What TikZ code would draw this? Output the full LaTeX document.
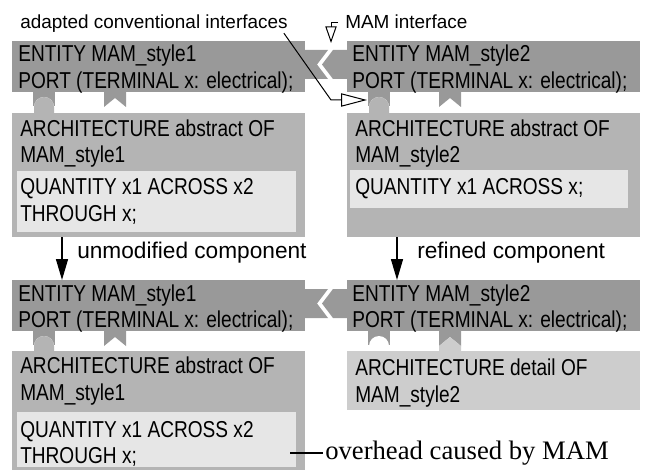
\documentclass[tikz,border=0pt]{standalone}
\usepackage{fontspec}
\setmainfont{Liberation Sans}
\newfontfamily\narrowfont[FakeStretch=0.83]{Liberation Sans}
\newfontfamily\seriffont{Liberation Serif}
\usetikzlibrary{arrows.meta,fit}
\definecolor{entgray}{RGB}{153,153,153}
\definecolor{archgray}{RGB}{180,180,180}
\definecolor{innergray}{RGB}{230,230,230}
\definecolor{detailgray}{RGB}{205,205,205}
% joint between two entity boxes of one row, #1 = top y
\newcommand\mamjoint[1]{%
  \fill[entgray] (305,#1+9) -- (328,#1+9) -- (317,#1+23.5) -- (328,#1+38) -- (305,#1+38) -- cycle;
  \fill[entgray] (347,#1+9) -- (333,#1+9) -- (322,#1+23.5) -- (333,#1+38) -- (347,#1+38) -- cycle;}
% sockets below an entity box, #1 = left x, #2 = bottom y
\newcommand\mamsockets[2]{%
  \fill[entgray] (#1+21,#2) rectangle (#1+43,#2+14);
  \fill[white] (#1+32,#2+15) circle[radius=10];
  \fill[entgray] (#1+92,#2) -- (#1+92,#2+15) -- (#1+103,#2+6) -- (#1+114,#2+15) -- (#1+114,#2) -- cycle;}
% round tab, #1 left x, #2 entity bottom y, #3 arch top y
\newcommand\mamroundtab[3]{%
  \fill[archgray] (#1+22,#3) -- (#1+22,#2+15) arc[start angle=180,end angle=360,radius=10] -- (#1+42,#3) -- cycle;}
% pointed tab
\newcommand\mamvtab[3]{%
  \fill[detailgray] (#1+92,#3) -- (#1+92,#2+15) -- (#1+103,#2+6) -- (#1+114,#2+15) -- (#1+114,#3) -- cycle;}
\begin{document}
\begin{tikzpicture}[x=0.75pt,y=-0.75pt,
  box/.style={inner sep=0pt,outer sep=0pt,draw=none},
  code/.style={anchor=base west,inner sep=0pt,font=\narrowfont\fontsize{17.25}{20}\selectfont},
  lbl/.style={anchor=base west,inner sep=0pt,font=\fontsize{17}{20}\selectfont},
  toplbl/.style={anchor=base west,inner sep=0pt,font=\fontsize{14.2}{17}\selectfont},
  comp/.style={line width=1.1pt,-{Triangle[length=15.75pt,width=9pt]}},
  pointer/.style={line width=0.75pt,-{Triangle[open,length=19.5pt,width=10pt]}},
  pointersmall/.style={line width=0.75pt,-{Triangle[open,length=12.5pt,width=8.5pt]}}]
\useasboundingbox (0,0) rectangle (645,470);
\fill[white] (0,0) rectangle (645,470);
% entity boxes
\node[box,fill=entgray,fit={(12,41)(305,92)}] (e1L) {};
\node[box,fill=entgray,fit={(347,41)(640,92)}] (e1R) {};
\node[box,fill=entgray,fit={(12,280)(305,331)}] (e2L) {};
\node[box,fill=entgray,fit={(347,280)(640,331)}] (e2R) {};
\mamjoint{41}
\mamjoint{280}
\mamsockets{12}{92}
\mamsockets{347}{92}
\mamsockets{12}{331}
\mamsockets{347}{331}
% architecture boxes
\node[box,fill=archgray,fit={(12,113)(305,237)}] (a1L) {};
\node[box,fill=archgray,fit={(347,113)(640,237)}] (a1R) {};
\node[box,fill=archgray,fit={(12,351)(305,470)}] (a2L) {};
\node[box,fill=detailgray,fit={(347,351)(640,410)}] (a2R) {};
\mamroundtab{12}{92}{113}
\mamroundtab{347}{92}{113}
\mamroundtab{12}{331}{351}
\mamvtab{347}{331}{351}
% inner quantity boxes
\node[box,fill=innergray,fit={(17,171)(296,232)}] (q1L) {};
\node[box,fill=innergray,fit={(350,170)(628,208)}] (q1R) {};
\node[box,fill=innergray,fit={(17,412)(296,467)}] (q2L) {};
% texts
\node[code] (t1) at (18,62) {ENTITY MAM\_style1};
\node[code] (t2) at (18,89) {PORT (TERMINAL x: electrical);};
\node[code] (t3) at (352,62) {ENTITY MAM\_style2};
\node[code] (t4) at (352,89) {PORT (TERMINAL x: electrical);};
\node[code] (t5) at (20,137) {ARCHITECTURE abstract OF};
\node[code] (t6) at (20,163) {MAM\_style1};
\node[code] (t7) at (20,195) {QUANTITY x1 ACROSS x2};
\node[code] (t8) at (20,222) {THROUGH x;};
\node[code] (t9) at (355,137) {ARCHITECTURE abstract OF};
\node[code] (t10) at (355,163) {MAM\_style2};
\node[code] (t11) at (355,195) {QUANTITY x1 ACROSS x;};
\node[code] (t12) at (18,301) {ENTITY MAM\_style1};
\node[code] (t13) at (18,327) {PORT (TERMINAL x: electrical);};
\node[code] (t14) at (352,301) {ENTITY MAM\_style2};
\node[code] (t15) at (352,327) {PORT (TERMINAL x: electrical);};
\node[code] (t16) at (20,373) {ARCHITECTURE abstract OF};
\node[code] (t17) at (20,400) {MAM\_style1};
\node[code] (t18) at (20,437) {QUANTITY x1 ACROSS x2};
\node[code] (t19) at (20,463) {THROUGH x;};
\node[code] (t20) at (355,375) {ARCHITECTURE detail OF};
\node[code] (t21) at (355,402) {MAM\_style2};
% component arrows
\coordinate (axL) at (62,0);
\coordinate (axR) at (397,0);
\draw[comp] (a1L.south -| axL) -- (e2L.north -| axL);
\draw[comp] (a1R.south -| axR) -- (e2R.north -| axR);
\node[lbl] (ucomp) at (77,258) {unmodified component};
\node[lbl] (rcomp) at (417,258) {refined component};
% top labels and pointers
\node[toplbl] (lab1) at (20,29) {adapted conventional interfaces};
\node[toplbl,inner xsep=5.25pt] (lab2) at (338,29) {MAM interface};
\coordinate (bend1) at (331,100);
\coordinate (tip1) at (367,100);
\draw[pointer] ([xshift=-3pt]lab1.south east) -- (bend1) -- (tip1);
\coordinate (tip2) at (331,43);
\draw[pointersmall] (lab2.west) -| (tip2);
% overhead
\node[anchor=base west,inner xsep=1.5pt,inner ysep=0pt,font=\seriffont\fontsize{20}{24}\selectfont] (ovh) at (323,459) {overhead caused by MAM};
\coordinate (ovs) at (290,452);
\draw[line width=1.5pt] (ovs |- ovh.west) -- (ovh.west);
\end{tikzpicture}
\end{document}
